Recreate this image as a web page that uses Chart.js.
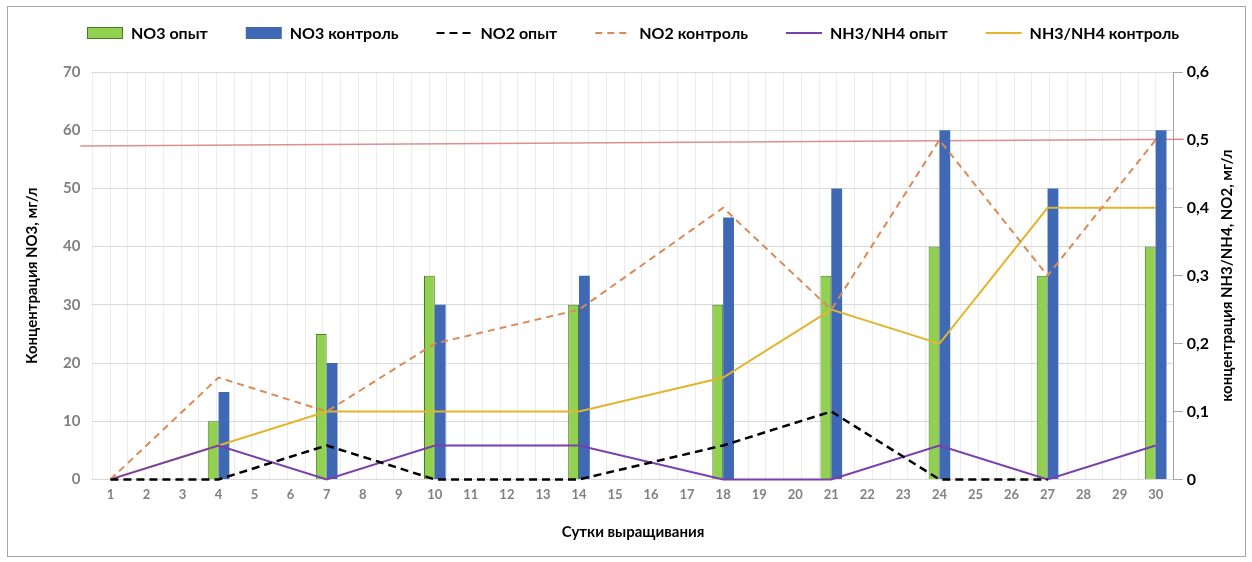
<!DOCTYPE html>
<html>
<head>
<meta charset="utf-8">
<script src="https://cdn.jsdelivr.net/npm/chart.js@4.4.1/dist/chart.umd.min.js"></script>
<style>
  html, body { margin: 0; padding: 0; background: #fff; }
  #wrap { position: relative; width: 1252px; height: 562px; }
  #frame { position: absolute; left: 7px; top: 6px; width: 1237px; height: 549px; border: 1px solid #a6a6a6; pointer-events: none; }
</style>
</head>
<body>
<div id="wrap">
  <canvas id="chart" width="1252" height="562"></canvas>
  <div id="frame"></div>
</div>
<script>
// days of growing (x categories)
const days = ['1','2','3','4','5','6','7','8','9','10','11','12','13','14','15',
              '16','17','18','19','20','21','22','23','24','25','26','27','28','29','30'];

// NO3, mg/l (left axis) - measured only on some days
const no3Opyt     = [null,null,null,10,null,null,25,null,null,35,null,null,null,30,null,null,null,30,null,null,35,null,null,40,null,null,35,null,null,40];
const no3Kontrol  = [null,null,null,15,null,null,20,null,null,30,null,null,null,35,null,null,null,45,null,null,50,null,null,60,null,null,50,null,null,60];

// NO2 and NH3/NH4, mg/l (right axis)
const no2Opyt     = [0,null,null,0,null,null,0.05,null,null,0,null,null,null,0,null,null,null,0.05,null,null,0.1,null,null,0,null,null,0,null,null,null];
const no2Kontrol  = [0,null,null,0.15,null,null,0.1,null,null,0.2,null,null,null,0.25,null,null,null,0.4,null,null,0.25,null,null,0.5,null,null,0.3,null,null,0.5];
const nhOpyt      = [0,null,null,0.05,null,null,0,null,null,0.05,null,null,null,0.05,null,null,null,0,null,null,0,null,null,0.05,null,null,0,null,null,0.05];
const nhKontrol   = [0,null,null,0.05,null,null,0.1,null,null,0.1,null,null,null,0.1,null,null,null,0.15,null,null,0.25,null,null,0.2,null,null,0.4,null,null,0.4];

// limit line (right axis), slightly tilted in the original
const limitStart = 0.491;
const limitEnd = 0.501;

const rightTitleText = 'концентрация NH3/NH4, NO2, мг/л';
const fontFamily = "Lato, 'Open Sans', sans-serif";

// thin red limit line, behind the bars
const limitLine = {
  id: 'limitLine',
  beforeDatasetsDraw(chart) {
    const { ctx, chartArea, scales } = chart;
    ctx.save();
    ctx.strokeStyle = 'rgba(220,130,130,0.9)';
    ctx.lineWidth = 1.5;
    ctx.beginPath();
    ctx.moveTo(chartArea.left - 12, scales.y1.getPixelForValue(limitStart));
    ctx.lineTo(chartArea.right + 10, scales.y1.getPixelForValue(limitEnd));
    ctx.stroke();
    ctx.restore();
  }
};

// right axis title reads bottom-to-top like the left one
const rightTitle = {
  id: 'rightTitle',
  afterDraw(chart) {
    const { ctx, chartArea, scales } = chart;
    ctx.save();
    ctx.translate(scales.y1.right + 14, (chartArea.top + chartArea.bottom) / 2);
    ctx.rotate(-Math.PI / 2);
    ctx.textAlign = 'center';
    ctx.textBaseline = 'middle';
    ctx.font = 'bold 15px ' + fontFamily;
    ctx.fillStyle = '#000';
    ctx.fillText(rightTitleText, 0, 0);
    ctx.restore();
  }
};

// legend row in dataset order, with dashed samples for the NO2 lines
const legendRow = {
  id: 'legendRow',
  afterDraw(chart) {
    const { ctx, chartArea } = chart;
    const symW = 36, symGap = 8, itemGap = 38;
    ctx.save();
    ctx.font = 'bold 16px ' + fontFamily;
    ctx.textBaseline = 'middle';
    const items = chart.data.datasets.map(ds => ({ ds, w: symW + symGap + ctx.measureText(ds.label).width }));
    const total = items.reduce((s, it) => s + it.w, 0) + itemGap * (items.length - 1);
    let x = (chartArea.left + chartArea.right) / 2 - total / 2;
    const y = chartArea.top - 39;
    items.forEach(({ ds, w }) => {
      if (ds.type === 'bar') {
        ctx.fillStyle = ds.backgroundColor;
        ctx.fillRect(x, y - 6, symW, 12);
        if (ds.borderWidth) {
          ctx.strokeStyle = ds.borderColor;
          ctx.lineWidth = 1;
          ctx.strokeRect(x + 0.5, y - 5.5, symW - 1, 11);
        }
      } else {
        ctx.strokeStyle = ds.borderColor;
        ctx.lineWidth = 2;
        ctx.setLineDash(ds.borderDash || []);
        ctx.beginPath();
        ctx.moveTo(x, y);
        ctx.lineTo(x + symW, y);
        ctx.stroke();
        ctx.setLineDash([]);
      }
      ctx.fillStyle = '#000';
      ctx.fillText(ds.label, x + symW + symGap, y + 1);
      x += w + itemGap;
    });
    ctx.restore();
  }
};

const lineBase = { type: 'line', xAxisID: 'x', yAxisID: 'y1', borderWidth: 2, pointRadius: 0, spanGaps: true, tension: 0, fill: false, clip: false, order: 1 };
const barBase = { type: 'bar', xAxisID: 'x', yAxisID: 'y', categoryPercentage: 0.6, barPercentage: 1.0, order: 2 };

new Chart(document.getElementById('chart').getContext('2d'), {
  type: 'bar',
  data: {
    labels: days,
    datasets: [
      { ...barBase, label: 'NO3 опыт', data: no3Opyt, backgroundColor: '#92d050', borderColor: '#4a7a26', borderWidth: 1 },
      { ...barBase, label: 'NO3 контроль', data: no3Kontrol, backgroundColor: '#3f68b5', borderColor: '#3f68b5', borderWidth: 0 },
      { ...lineBase, label: 'NO2 опыт', data: no2Opyt, borderColor: '#000000', backgroundColor: '#000000', borderWidth: 2.5, borderDash: [8, 5] },
      { ...lineBase, label: 'NO2 контроль', data: no2Kontrol, borderColor: '#dc8a55', backgroundColor: '#dc8a55', borderDash: [7, 5] },
      { ...lineBase, label: 'NH3/NH4 опыт', data: nhOpyt, borderColor: '#7a3fae', backgroundColor: '#7a3fae' },
      { ...lineBase, label: 'NH3/NH4 контроль', data: nhKontrol, borderColor: '#e2b52c', backgroundColor: '#e2b52c' }
    ]
  },
  options: {
    responsive: false,
    animation: false,
    layout: { padding: { left: 19, right: 39, top: 72, bottom: 17 } },
    plugins: {
      legend: { display: false },
      tooltip: { enabled: false }
    },
    scales: {
      x: {
        offset: true,
        grid: { display: false },
        border: { display: false },
        ticks: { color: '#808080', font: { family: fontFamily, size: 13, weight: 'bold' }, padding: 0, autoSkip: false, maxRotation: 0 },
        title: { display: true, text: 'Сутки выращивания', color: '#000', font: { family: fontFamily, size: 15, weight: 'bold' }, padding: { top: 20 } }
      },
      xg: {
        type: 'linear',
        position: 'bottom',
        min: 0.5,
        max: 30.5,
        grid: { color: '#ececec', drawTicks: false },
        border: { display: false },
        ticks: { display: false, stepSize: 0.5, maxTicksLimit: 100 }
      },
      y: {
        position: 'left',
        min: 0,
        max: 70,
        ticks: { stepSize: 10, color: '#808080', font: { family: fontFamily, size: 15, weight: 'bold' }, padding: 12 },
        grid: { color: '#d9d9d9', drawTicks: false },
        border: { display: false },
        title: { display: true, text: 'Концентрация NO3, мг/л', color: '#000', font: { family: fontFamily, size: 15, weight: 'bold' }, padding: { bottom: 10 } }
      },
      y1: {
        position: 'right',
        min: 0,
        max: 0.6,
        ticks: {
          stepSize: 0.1,
          color: '#000',
          font: { family: fontFamily, size: 16, weight: 'bold' },
          padding: 4,
          callback: v => v === 0 ? '0' : v.toFixed(1).replace('.', ',')
        },
        grid: { drawOnChartArea: false, color: '#a6a6a6', tickLength: 9 },
        border: { display: true, color: '#a6a6a6' }
      }
    }
  },
  plugins: [limitLine, rightTitle, legendRow]
});
</script>
</body>
</html>
